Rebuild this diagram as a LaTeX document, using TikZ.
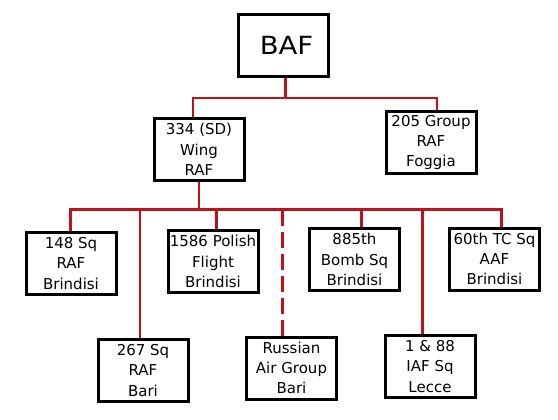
\documentclass[tikz,border=0pt]{standalone}
\usepackage{fontspec}
\setmainfont{DejaVu Sans}
\usetikzlibrary{backgrounds}
\definecolor{linkred}{RGB}{190,18,24}
\begin{document}
\begin{tikzpicture}[x=1pt,y=-1pt,
  box/.style={draw=black, line width=3pt, minimum width=90pt, minimum height=62pt,
    inner sep=0pt, align=center, fill=white, font=\fontsize{15}{20.3}\selectfont},
  link/.style={draw=linkred, line width=2.8pt},
  dlink/.style={link, dash pattern=on 16pt off 6pt}]
\useasboundingbox (0,0) rectangle (558,420);

% boxes
\node[box] (baf) at (283.5,45.5) {\hspace{6pt}\fontsize{25}{28}\selectfont\scalebox{1.1}[1]{BAF}};
\node[box] (wing) at (199,149.5) {334 (SD)\\Wing\\RAF};
\node[box] (g205) at (431,142.5) {205 Group\\RAF\\Foggia};
\node[box] (sq148) at (71,263.5) {148 Sq\\RAF\\Brindisi};
\node[box] (f1586) at (213,261.5) {1586 Polish\\Flight\\Brindisi};
\node[box] (sq885) at (354.5,259.5) {885th\\Bomb Sq\\Brindisi};
\node[box] (sq60) at (494.5,259) {60th TC Sq\\AAF\\Brindisi};
\node[box] (sq267) at (143,370.5) {267 Sq\\RAF\\Bari};
\node[box] (rus) at (291.5,368) {Russian\\Air Group\\Bari};
\node[box] (iaf) at (430,366.5) {1 \& 88\\IAF Sq\\Lecce};

% connectors
\begin{scope}[on background layer]
\fill[white] (0,0) rectangle (558,420);
\coordinate (t1L) at (193,98);
\coordinate (t1B) at (285.5,98);
\coordinate (t1R) at (437,98);
\draw[link] (t1L |- wing.north) -- (t1L) -- (t1R) -- (t1R |- g205.north);
\draw[link] (t1B |- baf.south) -- (t1B);

\coordinate (b2L) at (70.5,209.5);
\coordinate (b2R) at (501.5,209.5);
\coordinate (d267) at (140,209.5);
\coordinate (d1586) at (216.5,209.5);
\coordinate (drus) at (282.5,209.5);
\coordinate (d885) at (361.5,209.5);
\coordinate (diaf) at (422.5,209.5);
\draw[link] (b2L |- sq148.north) -- (b2L) -- (b2R) -- (b2R |- sq60.north);
\draw[link] (wing.south) -- (wing.south |- b2L);
\draw[link] (d267) -- (d267 |- sq267.north);
\draw[link] (d1586) -- (d1586 |- f1586.north);
\draw[dlink] (drus) -- (drus |- rus.north);
\draw[link] (d885) -- (d885 |- sq885.north);
\draw[link] (diaf) -- (diaf |- iaf.north);
\end{scope}
\end{tikzpicture}
\end{document}
